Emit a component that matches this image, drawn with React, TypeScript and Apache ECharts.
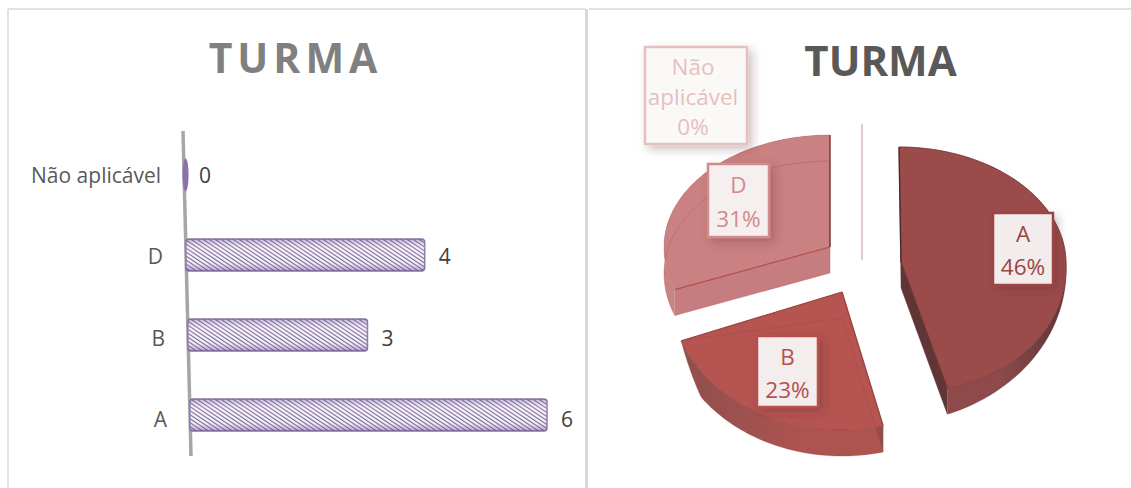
import React, { useEffect, useRef } from "react";
import * as echarts from "echarts";

const categories = ["A", "B", "D", "Não aplicável"];
const barValues = [6, 3, 4, 0];
const sliceOrder = ["A", "B", "D", "Não aplicável"];
const titleText = "TURMA";

const FONT = '"Open Sans", sans-serif';

// Visual layout of each exploded slice (not data)
const sliceLook: Record<string, any> = {
  A: { ax: 901, ay: 262, rx: 165, up: 115, down: 130, shearUp: 2, shearDown: 7, rise: [85, 166], top: "#9c4b4b", wall: "#5f3536", wall2: "#8e4a4a", edge: "#6e3434", spine: "#4d2a2a", spineAtStart: true, box: [993, 213, 60, 72], boxBorder: "#9c4444", text: "#9c4444", boxFill: "#f2ecec", lh: 33, textDx: 0 },
  B: { ax: 842, ay: 292, rx: 172, up: 138, down: 138, shearUp: 0, shearDown: 0, fall: [235, 249], top: "#b55451", wall: "#8f4f4c", wall2: "#ad5350", edge: "#9a4744", spine: "#9a4744", spineAtStart: true, box: [757, 336, 61, 71], boxBorder: "#b84f4d", text: "#b84f4d", boxFill: "#f3eded", lh: 33, textDx: 0 },
  D: { ax: 830, ay: 247, rx: 166, up: 112, down: 120, shearUp: 0, shearDown: 0, top: "#c98181", wall: "#c57d7f", wall2: "#c88384", edge: "#b24e4e", spine: "#7a3030", spineAtStart: false, box: [708, 164, 61, 73], boxBorder: "#d28a8a", text: "#d28a8a", boxFill: "#f6efef", lh: 34, textDx: 0 },
  "Não aplicável": { ax: 862, ay: 260, rx: 165, up: 136, down: 136, shearUp: 0, shearDown: 0, top: "#d9a5a5", wall: "#d9a5a5", wall2: "#d9a5a5", edge: "#d9a5a5", spine: "#d9a5a5", spineAtStart: true, box: [645, 47, 102, 97], boxBorder: "#e6bfbf", text: "#e6bfbf", boxFill: "#fbf8f8", lh: 30, textDx: -3 },
};
const DEPTH = 26;

function hatchCanvas() {
  const c = document.createElement("canvas");
  c.width = 6;
  c.height = 4;
  const g = c.getContext("2d")!;
  g.fillStyle = "#f5f1f9";
  g.fillRect(0, 0, 6, 4);
  g.strokeStyle = "#7a6699";
  g.lineWidth = 1.1;
  for (let k = -1; k <= 1; k++) {
    g.beginPath();
    g.moveTo(-3, k * 4 - 2);
    g.lineTo(9, k * 4 + 6);
    g.stroke();
  }
  return c;
}

export default function App() {
  const ref = useRef<HTMLDivElement>(null);
  useEffect(() => {
    document.body.style.margin = "0";
    const styleEl = document.createElement("style");
    styleEl.textContent = 'svg text[fill="#808080"]{letter-spacing:5px}';
    document.head.appendChild(styleEl);
    const chart = echarts.init(ref.current!, undefined, { renderer: "svg" });
    const hatch = hatchCanvas();
    const total = barValues.reduce((a, b) => a + b, 0);
    const sliceValues = sliceOrder.map((n) => barValues[categories.indexOf(n)]);

    const skew = (y: number) => (y - 295) * 0.0246;

    const renderBar = (_: any, api: any) => {
      const i = api.value(0);
      const v = api.value(1);
      const p0 = api.coord([0, i]);
      const p1 = api.coord([v, i]);
      const h = 32;
      const x0 = p0[0] + skew(p0[1]);
      const y0 = p0[1] - h / 2;
      const textY = p0[1] + (p0[1] - 175) / 60;
      const children: any[] = [];
      let endX = x0;
      if (v > 0) {
        const w = p1[0] - p0[0] + 2;
        endX = x0 + w;
        children.push(
          { type: "rect", shape: { x: x0, y: y0, width: w, height: h, r: 3 }, style: { fill: { image: hatch, repeat: "repeat" } as any, stroke: "#8a72a8", lineWidth: 1.5 } },
          {
            type: "rect",
            shape: { x: x0, y: y0, width: w, height: h, r: 3 },
            style: {
              fill: new echarts.graphic.LinearGradient(0, 0, 0, 1, [
                { offset: 0, color: "rgba(110,85,150,0.4)" },
                { offset: 0.3, color: "rgba(255,255,255,0.18)" },
                { offset: 0.65, color: "rgba(255,255,255,0.05)" },
                { offset: 1, color: "rgba(90,65,130,0.45)" },
              ]),
            },
          }
        );
      } else {
        children.push({
          type: "ellipse",
          shape: { cx: x0 + 1.5, cy: p0[1], rx: 3, ry: 16.5 },
          style: { fill: "#8a72ad" },
        });
        endX = x0 + 1;
      }
      children.push(
        {
          type: "text",
          style: { text: String(v), x: endX + 14, y: textY, align: "left", verticalAlign: "middle", font: `21px ${FONT}`, fill: "#404040" },
        },
        {
          type: "text",
          style: { text: categories[i], x: 164 + skew(p0[1]), y: textY, align: "right", verticalAlign: "middle", font: `21px ${FONT}`, fill: "#595959" },
        }
      );
      return { type: "group", children };
    };

    const arcPts = (c: any, a0: number, a1: number, withDepth = false) => {
      const pts: number[][] = [];
      const n = 72;
      for (let k = 0; k <= n; k++) {
        const t = a0 + ((a1 - a0) * k) / n;
        const deg = (t * 180) / Math.PI;
        const v = -Math.cos(t);
        let d = 0;
        if (withDepth) {
          let f = 1;
          if (c.rise) f = Math.min(1, Math.max(0, (deg - c.rise[0]) / (c.rise[1] - c.rise[0])));
          if (c.fall) f = Math.min(1, Math.max(0, (c.fall[1] - deg) / (c.fall[1] - c.fall[0])));
          d = DEPTH * f;
        }
        const shear = v < 0 ? v * c.shearUp : v * c.shearDown;
        pts.push([c.ax + c.rx * Math.sin(t) + shear, c.ay + d + v * (v < 0 ? c.up : c.down)]);
      }
      return pts;
    };

    const starts: number[] = [];
    sliceValues.reduce((acc, v, i) => {
      starts[i] = acc;
      return acc + v;
    }, 0);

    const renderSlice = (_: any, api: any) => {
      const i = api.value(0);
      const v = api.value(1);
      const name = sliceOrder[i];
      const c = sliceLook[name];
      const a0 = (starts[i] / total) * Math.PI * 2;
      const a1 = ((starts[i] + v) / total) * Math.PI * 2;
      const children: any[] = [];
      const pct = Math.round((v / total) * 100) + "%";
      if (v > 0) {
        const top = arcPts(c, a0, a1);
        const low = arcPts(c, a0, a1, true);
        const apex = [c.ax, c.ay];
        const apexLow = [c.ax, c.ay + DEPTH];
        const wallFill = new echarts.graphic.LinearGradient(0, 0, 1, 0, [
          { offset: 0, color: name === "B" ? c.wall : c.wall2 },
          { offset: 0.6, color: c.wall2 },
          { offset: 1, color: name === "B" ? c.wall2 : c.wall },
        ]);
        children.push({ type: "polygon", shape: { points: [...top, ...low.slice().reverse()] }, style: { fill: wallFill } });
        const e0 = top[0];
        const e1 = top[top.length - 1];
        const l0 = low[0];
        const l1 = low[low.length - 1];
        children.push({ type: "polygon", shape: { points: [apex, e1, l1, apexLow] }, style: { fill: name === "A" ? c.wall : c.wall2 } });
        children.push({ type: "polygon", shape: { points: [apex, e0, l0, apexLow] }, style: { fill: c.wall } });
        children.push({ type: "polygon", shape: { points: [apex, ...top] }, style: { fill: c.top } });
        children.push({ type: "polyline", shape: { points: top }, style: { fill: "none", stroke: c.edge, lineWidth: 1, opacity: name === "D" ? 0.25 : 0.7 } });
        children.push({ type: "polyline", shape: { points: [apexLow, ...low, apexLow] }, style: { fill: "none", stroke: c.edge, lineWidth: 1, opacity: 0.35 } });
        const spineEnd = c.spineAtStart ? e0 : e1;
        const edgeEnd = c.spineAtStart ? e1 : e0;
        children.push({ type: "line", shape: { x1: apex[0], y1: apex[1], x2: edgeEnd[0], y2: edgeEnd[1] }, style: { stroke: c.edge, lineWidth: 1.2 } });
        children.push({ type: "line", shape: { x1: apex[0], y1: apex[1], x2: spineEnd[0], y2: spineEnd[1] }, style: { stroke: c.spine, lineWidth: 1.4 } });
      } else {
        children.push({ type: "line", shape: { x1: c.ax, y1: c.ay, x2: c.ax, y2: c.ay - c.up }, style: { stroke: c.edge, lineWidth: 1.2 } });
      }
      const [bx, by, bw, bh] = c.box;
      children.push({
        type: "rect",
        shape: { x: bx, y: by, width: bw, height: bh },
        style: { fill: c.boxFill, stroke: c.boxBorder, lineWidth: 2.5, shadowBlur: 10, shadowColor: "rgba(90,40,40,0.3)", shadowOffsetX: 4, shadowOffsetY: 4 },
      });
      const lines = [...name.split(" "), pct];
      const cyc = by + bh / 2 + 1;
      lines.forEach((t, k) => {
        children.push({
          type: "text",
          style: { text: t, x: bx + bw / 2 + c.textDx, y: cyc + (k - (lines.length - 1) / 2) * c.lh, align: "center", verticalAlign: "middle", font: `22.5px ${FONT}`, fill: c.text },
        });
      });
      return { type: "group", children };
    };

    chart.setOption({
      animation: false,
      backgroundColor: "#ffffff",
      title: [
        { text: titleText, left: 290.5, top: 31, textAlign: "center", textStyle: { fontFamily: FONT, fontWeight: "bold", fontSize: 41, color: "#808080" } },
        { text: titleText, left: 875.5, top: 33, textAlign: "center", textStyle: { fontFamily: FONT, fontWeight: "bold", fontSize: 42, color: "#595959" } },
      ],
      grid: { left: 187, top: 135, width: 355, height: 320 },
      xAxis: { type: "value", min: 0, max: 6, show: false },
      yAxis: {
        type: "category",
        data: categories,
        axisLine: { show: false },
        axisTick: { show: false },
        axisLabel: { show: false },
      },
      graphic: [
        { type: "line", z: 0, shape: { x1: 8, y1: 9, x2: 8, y2: 488 }, style: { stroke: "#d9d9d9", lineWidth: 1.5 } },
        { type: "line", z: 0, shape: { x1: 8, y1: 9, x2: 585, y2: 9 }, style: { stroke: "#d9d9d9", lineWidth: 1.5 } },
        { type: "line", z: 0, shape: { x1: 586.5, y1: 9, x2: 586.5, y2: 488 }, style: { stroke: "#d9d9d9", lineWidth: 3 } },
        { type: "line", z: 0, shape: { x1: 589, y1: 9, x2: 1131, y2: 9 }, style: { stroke: "#d9d9d9", lineWidth: 1.5 } },
        { type: "line", z: 0, shape: { x1: 183, y1: 131, x2: 191, y2: 456 }, style: { stroke: "#a6a6a6", lineWidth: 3.5 } },
      ],
      series: [
        {
          type: "custom",
          coordinateSystem: "cartesian2d",
          z: 3,
          encode: { x: 1, y: 0 },
          data: barValues.map((v, i) => [i, v]),
          renderItem: renderBar,
        },
        {
          type: "custom",
          coordinateSystem: "none",
          z: 3,
          data: sliceValues.map((v, i) => [i, v]),
          renderItem: renderSlice,
        },
      ],
    });
    return () => {
      chart.dispose();
      styleEl.remove();
    };
  }, []);
  return <div ref={ref} style={{ width: 1131, height: 488 }} />;
}
